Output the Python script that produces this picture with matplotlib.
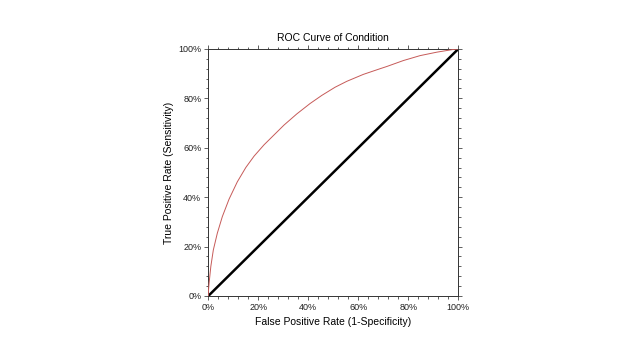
import numpy as np
import matplotlib.pyplot as plt
from matplotlib.ticker import MultipleLocator, FuncFormatter

plt.rcParams['font.family'] = ['Liberation Sans', 'DejaVu Sans']

# ROC curve points
fpr = [0.0, 0.0005, 0.003, 0.010, 0.020, 0.036, 0.056, 0.083, 0.116, 0.150, 0.183,
       0.223, 0.263, 0.303, 0.354, 0.407, 0.454, 0.507, 0.554, 0.620, 0.687, 0.714,
       0.780, 0.847, 0.914, 0.980, 1.0]
tpr = [0.0, 0.020, 0.051, 0.119, 0.186, 0.254, 0.321, 0.392, 0.462, 0.520, 0.566,
       0.612, 0.652, 0.692, 0.737, 0.779, 0.812, 0.845, 0.869, 0.897, 0.920, 0.929,
       0.953, 0.973, 0.987, 0.998, 1.0]
ref_line = [0.0, 1.0]

fig = plt.figure(figsize=(6.4, 3.6), dpi=100)
ax = fig.add_axes([0.3255, 0.178, 0.3906, 0.686])

ax.plot(ref_line, ref_line, color='black', lw=1.8, zorder=2)
ax.plot(fpr, tpr, color='#c65a58', lw=0.7, zorder=3)

ax.set_xlim(0, 1)
ax.set_ylim(0, 1)
pct = FuncFormatter(lambda v, p: f'{v * 100:.0f}%')
for axis in (ax.xaxis, ax.yaxis):
    axis.set_major_locator(MultipleLocator(0.2))
    axis.set_minor_locator(MultipleLocator(0.04))
    axis.set_major_formatter(pct)

ax.tick_params(which='both', direction='out', top=True, right=True,
               labelsize=6.5, labelcolor='#222222', color='#444444', width=0.6, pad=2)
ax.tick_params(which='major', length=3)
ax.tick_params(which='minor', length=1.8)
for s in ax.spines.values():
    s.set_linewidth(0.7)
    s.set_color('#333333')

ax.set_title('ROC Curve of Condition', fontsize=7.5, pad=6)
ax.set_xlabel('False Positive Rate (1-Specificity)', fontsize=7.5, labelpad=4)
ax.set_ylabel('True Positive Rate (Sensitivity)', fontsize=7.5, labelpad=3)

fig.savefig('out.png', dpi=100, facecolor='white')
